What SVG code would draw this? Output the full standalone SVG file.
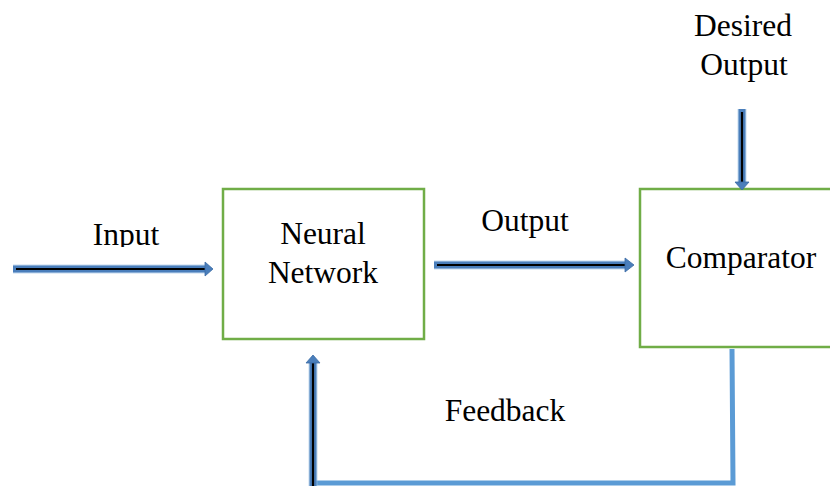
<svg xmlns="http://www.w3.org/2000/svg" width="830" height="487" viewBox="0 0 830 487">
<style>
.box{fill:#fff;stroke:#70AD47;stroke-width:2.5}
.t{font-family:"Liberation Serif","Times New Roman",serif;font-size:31.5px;fill:#000;text-anchor:middle}
.sh{stroke:#4A7EBB;stroke-width:7;fill:none}
.shl{stroke:#9DC3E6;stroke-width:9;fill:none;opacity:0.6}
.core{stroke:#000;stroke-width:2.2;fill:none}
.hd{fill:#4A7EBB;stroke:#3A6BA5;stroke-width:0.8}
.fb{stroke:#5B9BD5;stroke-width:5;fill:none}
</style>
<defs>
<clipPath id="inclip"><rect x="0" y="0" width="830" height="247"/></clipPath>
</defs>
<g id="neural-network">
<rect class="box" x="223" y="189" width="201" height="150"/>
<text class="t" x="323" y="244">Neural</text>
<text class="t" x="323" y="283">Network</text>
</g>
<g id="comparator">
<rect class="box" x="640" y="189" width="200" height="158"/>
<text class="t" x="741" y="268">Comparator</text>
</g>
<g id="labels">
<text class="t" x="126" y="245" clip-path="url(#inclip)">Input</text>
<text class="t" x="525" y="231">Output</text>
<text class="t" x="743" y="36">Desired</text>
<text class="t" x="744" y="75">Output</text>
<text class="t" x="505" y="421">Feedback</text>
</g>
<g id="connectors">
<line class="shl" x1="13" y1="269" x2="206" y2="269"/>
<line class="sh" x1="13" y1="269" x2="206" y2="269"/>
<line class="core" x1="16" y1="269" x2="207" y2="269"/>
<polygon class="hd" points="205,262 213,269 205,276"/>
<line class="shl" x1="434" y1="265" x2="626" y2="265"/>
<line class="sh" x1="434" y1="265" x2="626" y2="265"/>
<line class="core" x1="437" y1="265" x2="627" y2="265"/>
<polygon class="hd" points="625,258 634,265 625,272"/>
<line class="shl" x1="742" y1="109" x2="742" y2="182"/>
<line class="sh" x1="742" y1="109" x2="742" y2="182"/>
<line class="core" x1="742" y1="112" x2="742" y2="183"/>
<polygon class="hd" points="735,182 742,190 749,182"/>
<polyline class="fb" points="732,349 733,483 315,483"/>
<line class="shl" x1="313" y1="486" x2="313" y2="362"/>
<line class="sh" x1="313" y1="486" x2="313" y2="362"/>
<line class="core" x1="313" y1="486" x2="313" y2="361"/>
<polygon class="hd" points="306,363 313,355 320,363"/>
</g>
</svg>
